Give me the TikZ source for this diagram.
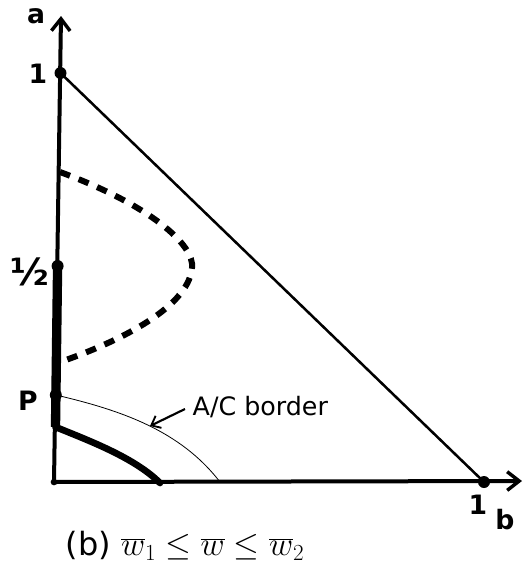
\documentclass[tikz,border=0pt]{standalone}
\usepackage{fontspec}
\setmainfont{DejaVu Sans}
\usetikzlibrary{arrows.meta}
\begin{document}
\begin{tikzpicture}[x=0.75pt,y=-0.75pt,
  axis/.style={line width=3pt,-{Straight Barb[length=9pt,width=14pt,line width=2.6pt]}},
  dotm/.style={circle,fill=black,inner sep=0pt,minimum size=9pt},
  lbl/.style={font=\fontsize{20}{22}\selectfont\bfseries},
  captext/.style={font=\fontsize{19}{22}\selectfont}]
\useasboundingbox (0,0) rectangle (523,569);
% coordinates
\coordinate (O) at (54,482);
\coordinate (Atop) at (61,16);
\coordinate (Bend) at (522,481);
\node[dotm] (A1) at (60.5,73) {};
\node[dotm] (Ahalf) at (57.6,266) {};
\node[dotm] (P) at (55.8,395) {};
\node[dotm] (B1) at (484,482) {};
\node[circle,fill=black,inner sep=0pt,minimum size=5pt] (Od) at (O) {};
\coordinate (K) at (55.5,427);
\coordinate (T) at (160,483);
\coordinate (C) at (220,482);
\coordinate (D1) at (60,172);
\coordinate (D2) at (60,362);
\coordinate (Lab) at (185,409);
\coordinate (Tip) at (150,426);
% axes
\draw[axis] (O) -- (Atop);
\draw[axis] (O) -- (Bend);
% hypotenuse
\draw[line width=1.9pt] (A1.center) -- (B1.center);
% thick segment on a-axis
\draw[line width=7pt] (Ahalf.center) -- (K);
% thick curve
\draw[line width=5pt,line cap=round] (K) .. controls (90,441) and (135,458) .. (T);
% thin A/C border
\draw[line width=0.6pt] (P.center) .. controls (120,410) and (180,430) .. (C);
% dashed curve
\draw[line width=4.5pt,dash pattern=on 8pt off 7pt] (D1) .. controls (150,205) and (195,245) .. (192,268) .. controls (188,310) and (110,345) .. (D2);
% A/C label arrow
\draw[line width=1.6pt,-{Straight Barb[length=6pt,width=10pt,line width=1.4pt]}] (Lab) -- (Tip);
\node[captext,anchor=west] (acl) at (188,407) {A/C border};
% labels
\node[lbl] (la) at (36,16) {a};
\node[lbl] (l1) at (38,74) {1};
\node[lbl] (lh) at (30,272) {\fontsize{28}{30}\selectfont ½};
\node[lbl] (lp) at (28,401) {P};
\node[lbl] (l1b) at (478,505) {1};
\node[lbl] (lb) at (505,520) {b};
\node[font=\fontsize{24}{26}\selectfont] (caption) at (185,546) {(b) $\overline{w}_1 \le \overline{w} \le \overline{w}_2$};
\end{tikzpicture}
\end{document}
